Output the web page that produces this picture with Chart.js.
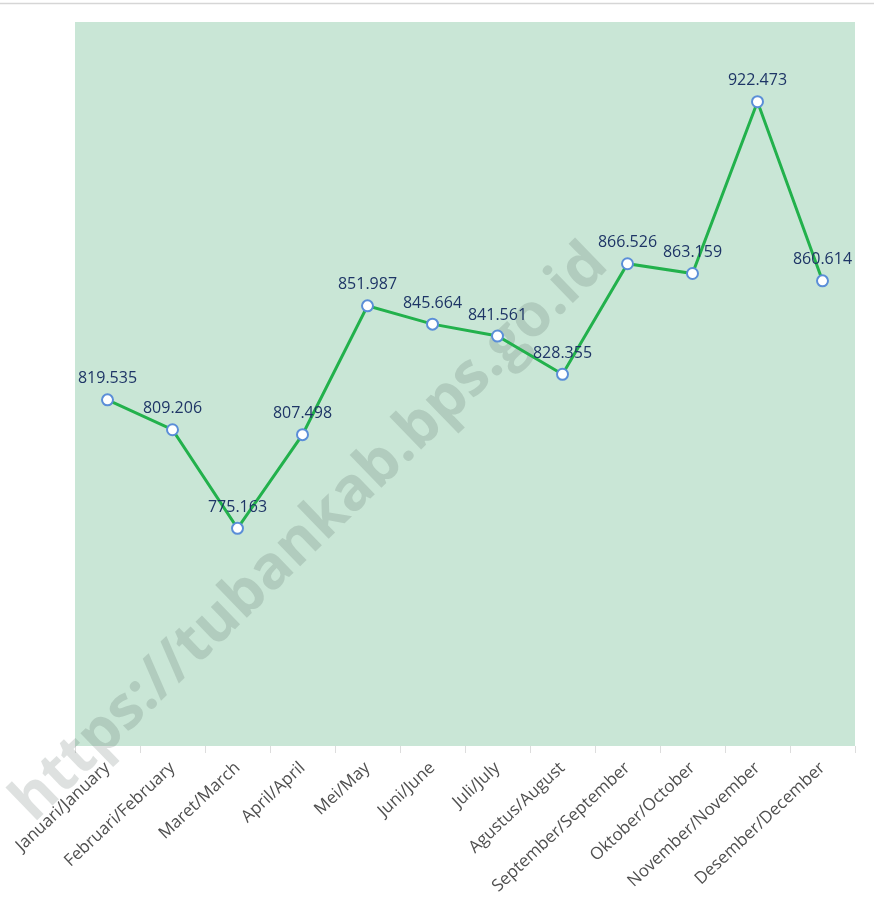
<!DOCTYPE html>
<html>
<head>
<meta charset="utf-8">
<script src="https://cdn.jsdelivr.net/npm/chart.js@4/dist/chart.umd.min.js"></script>
<style>
html,body{margin:0;padding:0;background:#fff;}
#wrap{width:874px;height:900px;position:relative;}
</style>
</head>
<body>
<div id="wrap"><canvas id="c" width="874" height="900"></canvas></div>
<script>
const categories = ["Januari/January","Februari/February","Maret/March","April/April","Mei/May","Juni/June","Juli/July","Agustus/August","September/September","Oktober/October","November/November","Desember/December"];
const values = [819.535, 809.206, 775.163, 807.498, 851.987, 845.664, 841.561, 828.355, 866.526, 863.159, 922.473, 860.614];
const valueLabels = ["819.535","809.206","775.163","807.498","851.987","845.664","841.561","828.355","866.526","863.159","922.473","860.614"];
const yMin = 700, yMax = 950;
const watermark = "https://tubankab.bps.go.id";

const bgPlugin = {
  id: 'bg',
  beforeDraw(chart) {
    const {ctx, chartArea: a} = chart;
    ctx.save();
    ctx.fillStyle = '#fff';
    ctx.fillRect(0, 0, chart.width, chart.height);
    ctx.strokeStyle = '#d6d6d6';
    ctx.lineWidth = 1.5;
    ctx.beginPath(); ctx.moveTo(0, 3.5); ctx.lineTo(chart.width, 3.5); ctx.stroke();
    ctx.fillStyle = '#c9e6d6';
    ctx.fillRect(a.left, a.top, a.right - a.left, a.bottom - a.top);
    ctx.restore();
  },
  beforeDatasetsDraw(chart) {
    const ctx = chart.ctx;
    ctx.save();
    ctx.translate(310, 533);
    ctx.rotate(-44 * Math.PI / 180);
    ctx.font = 'bold 60px "Open Sans"';
    ctx.fillStyle = 'rgba(60,80,70,0.17)';
    ctx.textAlign = 'center';
    ctx.textBaseline = 'middle';
    ctx.fillText(watermark, 0, 0);
    ctx.restore();
  }
};

const labelPlugin = {
  id: 'vlabels',
  afterDatasetsDraw(chart) {
    const {ctx, chartArea: a} = chart;
    const meta = chart.getDatasetMeta(0);
    ctx.save();
    ctx.font = '16px "Open Sans"';
    ctx.fillStyle = '#1e3566';
    ctx.textAlign = 'center';
    ctx.textBaseline = 'middle';
    meta.data.forEach((pt, i) => {
      const t = valueLabels[i];
      const w = ctx.measureText(t).width;
      let x = pt.x;
      if (x + w / 2 > a.right - 2) x = a.right - 2 - w / 2;
      ctx.fillText(t, x, pt.y - 21);
    });
    ctx.restore();
  }
};

new Chart(document.getElementById('c'), {
  type: 'line',
  data: {
    labels: categories,
    datasets: [{
      data: values,
      borderColor: '#22b14c',
      borderWidth: 3,
      tension: 0,
      pointRadius: 5.5,
      pointHoverRadius: 5.5,
      pointBackgroundColor: '#ffffff',
      pointBorderColor: '#5b8ed8',
      pointBorderWidth: 2,
      fill: false
    }]
  },
  options: {
    responsive: false,
    animation: false,
    devicePixelRatio: 1,
    layout: { padding: { left: 75, right: 19, top: 22, bottom: 0 } },
    plugins: { legend: { display: false }, tooltip: { enabled: false } },
    scales: {
      y: { display: false, min: yMin, max: yMax },
      x: {
        offset: true,
        grid: { offset: true, drawOnChartArea: false, drawTicks: true, tickLength: 7, color: '#dddddd' },
        border: { display: false },
        ticks: { minRotation: 43, maxRotation: 43, color: '#505050', font: { family: '"Open Sans"', size: 17 }, padding: 5 },
        afterFit(scale) { scale.height = 154; }
      }
    }
  },
  plugins: [bgPlugin, labelPlugin]
});
</script>
</body>
</html>
